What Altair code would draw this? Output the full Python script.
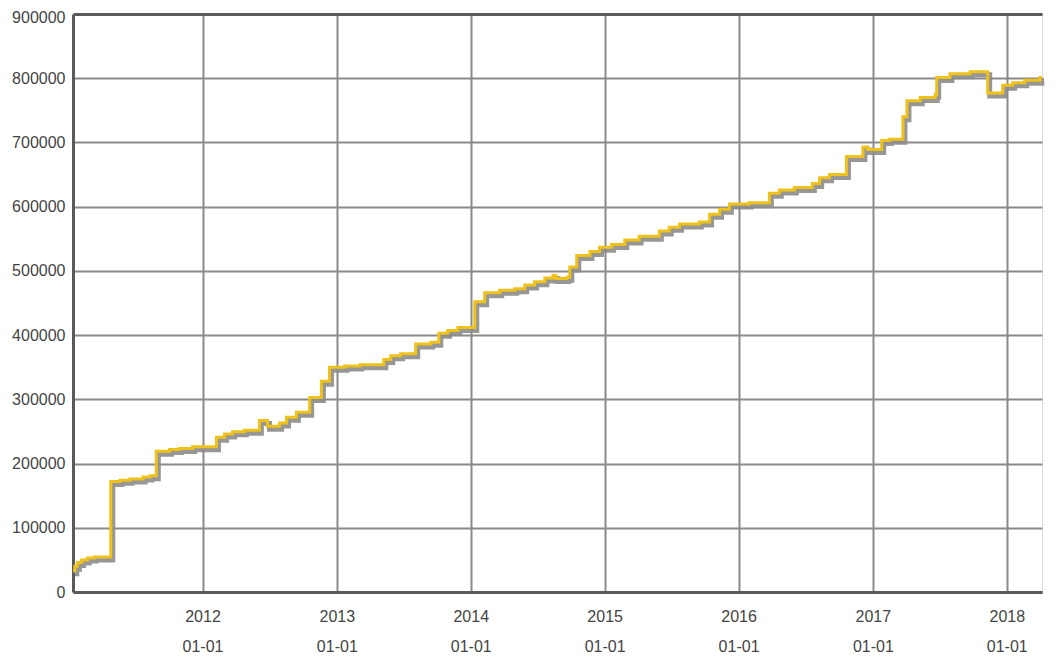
import altair as alt
import pandas as pd

dates = [
    "2011-01-13", "2011-01-18", "2011-01-25", "2011-02-05", "2011-02-21", "2011-03-12",
    "2011-04-26", "2011-05-21", "2011-06-17", "2011-07-23", "2011-08-11",
    "2011-08-28", "2011-10-03", "2011-10-30", "2011-12-05",
    "2012-02-08", "2012-03-01", "2012-03-23", "2012-04-24",
    "2012-06-04", "2012-06-26", "2012-07-29", "2012-08-17", "2012-09-13",
    "2012-10-19", "2012-11-20", "2012-12-12", "2013-01-23", "2013-03-05",
    "2013-05-09", "2013-05-28", "2013-06-24", "2013-08-04", "2013-09-14",
    "2013-10-06", "2013-10-30", "2013-11-27",
    "2014-01-12", "2014-02-08", "2014-03-21", "2014-05-01", "2014-05-28",
    "2014-06-24", "2014-07-22", "2014-08-13", "2014-08-21", "2014-09-20",
    "2014-09-28", "2014-10-17", "2014-11-22", "2014-12-18",
    "2015-01-20", "2015-02-25", "2015-04-05", "2015-05-30", "2015-06-26",
    "2015-07-24", "2015-09-16", "2015-10-14", "2015-11-10", "2015-12-07",
    "2016-01-30", "2016-03-25", "2016-04-21", "2016-06-01", "2016-07-20",
    "2016-08-09", "2016-09-05", "2016-10-21", "2016-12-05", "2016-12-18",
    "2017-01-25", "2017-02-15", "2017-03-24", "2017-04-04", "2017-05-10",
    "2017-06-20", "2017-06-24", "2017-07-30", "2017-09-23",
    "2017-11-10", "2017-12-21", "2018-01-17", "2018-02-19", "2018-04-01",
    "2018-04-07",
]
values = [
    33000, 40000, 46000, 50000, 53000, 54500,
    172000, 174000, 176000, 179000, 181000,
    219000, 222000, 223500, 226000,
    241000, 246000, 249500, 252000,
    267000, 258000, 263000, 272000, 280000,
    303000, 328000, 350000, 352000, 354000,
    362000, 368000, 371000, 386000, 389000,
    403000, 407000, 412000,
    452000, 466000, 470000, 472000, 478000,
    483000, 489000, 493000, 488000, 490000,
    506000, 524000, 530000, 537000,
    541000, 548000, 554000, 562000, 568000,
    573000, 576000, 588000, 596000, 604000,
    606000, 621000, 626000, 630000, 636000,
    645000, 650000, 678000, 693000, 689000,
    703000, 705000, 740000, 765000, 770000,
    775000, 801000, 807000, 810000,
    777000, 789000, 793000, 797000, 801000,
    801000,
]

df = pd.DataFrame({"date": pd.to_datetime(dates), "value": values})

x_scale = alt.Scale(domain=[alt.DateTime(year=2011, month=1, date=13),
                            alt.DateTime(year=2018, month=4, date=7)], nice=False)
y_scale = alt.Scale(domain=[0, 900000], nice=False)

FRAME = "#5a5a5a"

x_axis = alt.Axis(
    title=None, grid=True, gridColor="#8a8a8a", gridWidth=2, ticks=False,
    domain=True, domainColor=FRAME, domainWidth=3,
    labelFont="Liberation Sans", labelFontSize=16, labelColor="#444",
    labelPadding=16, labelLineHeight=30,
    tickCount={"interval": "year", "step": 1},
    labelExpr="[timeFormat(datum.value, '%Y'), timeFormat(datum.value, '%m-%d')]",
)
y_axis = alt.Axis(
    title=None, grid=True,
    gridColor={"condition": {"test": "datum.value >= 900000", "value": FRAME},
               "value": "#8a8a8a"},
    gridWidth={"condition": {"test": "datum.value >= 900000", "value": 3},
               "value": 2},
    labelOffset={"condition": {"test": "datum.value >= 900000", "value": 3},
                 "value": 0},
    ticks=False, domain=True, domainColor=FRAME, domainWidth=3,
    labelFont="Liberation Sans", labelFontSize=16, labelColor="#444",
    labelPadding=8, values=list(range(0, 900001, 100000)), format="d",
)

base = alt.Chart(df)

shadow = base.mark_line(interpolate="step-after", color="#8c8c8c", strokeWidth=5,
                        xOffset=2, yOffset=3, opacity=0.9).encode(
    x=alt.X("date:T", scale=x_scale, axis=x_axis),
    y=alt.Y("value:Q", scale=y_scale, axis=y_axis),
)
line = base.mark_line(interpolate="step-after", color="#eec21a", strokeWidth=3).encode(
    x=alt.X("date:T", scale=x_scale),
    y=alt.Y("value:Q", scale=y_scale),
)

chart = (shadow + line).properties(
    width=969, height=578,
    autosize=alt.AutoSizeParams(type="none"),
    padding={"left": 65, "top": 6, "right": 6, "bottom": 66},
).configure_view(stroke=FRAME, strokeWidth=3).configure(background="white")

chart.save("out.html", embed_options={"renderer": "svg", "actions": False})
